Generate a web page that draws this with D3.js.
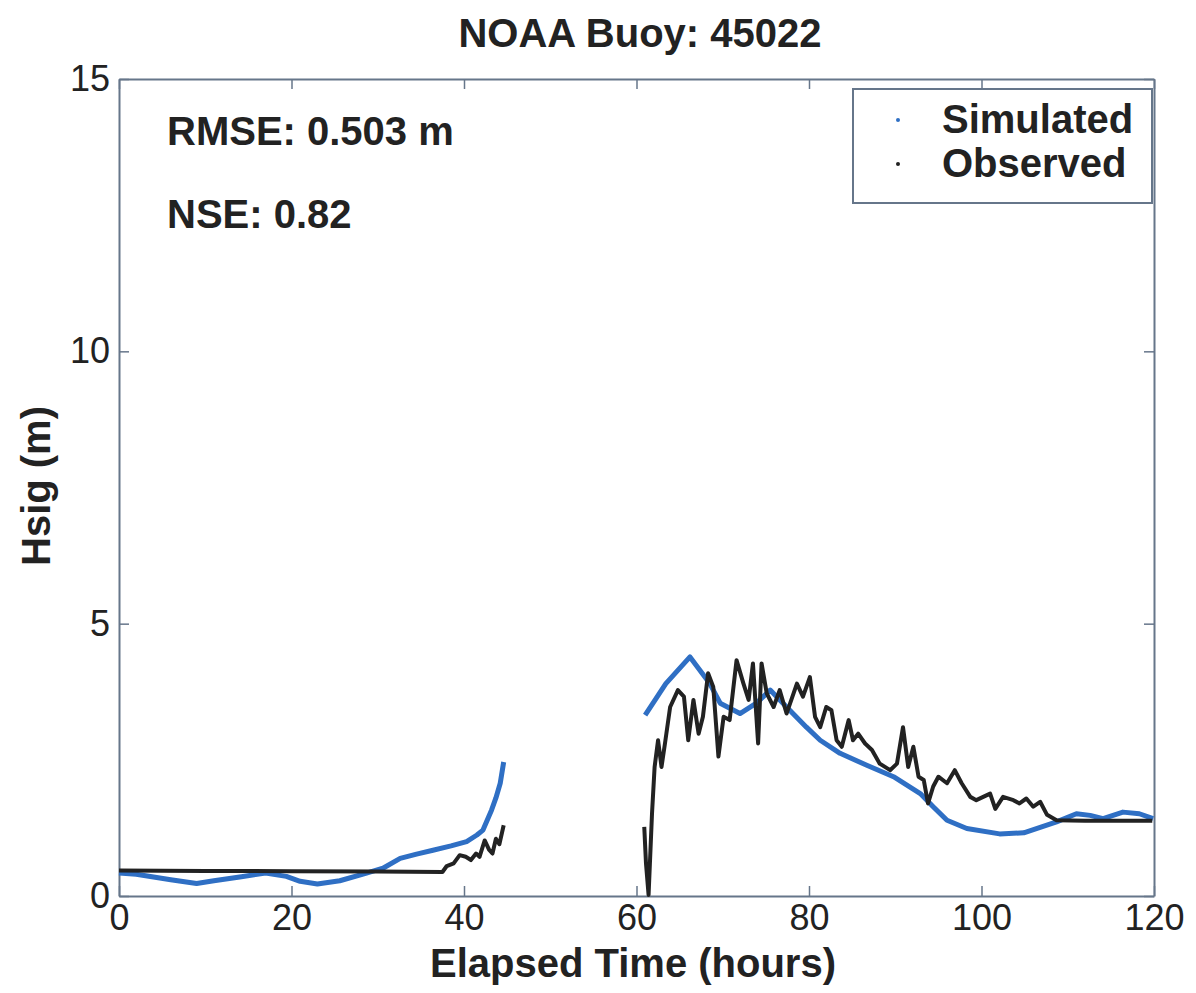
<!DOCTYPE html>
<html>
<head>
<meta charset="utf-8">
<script src="https://cdn.jsdelivr.net/npm/d3@7"></script>
<style>
  body { margin: 0; background: #fff; }
  text { font-family: "Liberation Sans", Arial, sans-serif; fill: #222; }
</style>
</head>
<body>
<div id="chart-holder"></div>
<script>
// chart data (null = gap in record)
var simHours = [0, 2, 4, 6, 9, 11, 14, 17, 19.4, 21,
  23, 25.6, 28.7, 30.6, 32.6, 34.5, 36.4, 38.5, 40.3, 41.5,
  42.2, 43.2, 43.7, 44.2, 44.6,
  null,
  61.0, 63.4, 66.2, 68.5, 69.7, 72.0, 73.9, 75.5, 77.4, 79.7,
  81.3, 83.6, 86.7, 89.8, 92.9, 94.4, 96.0, 98.3, 102.1, 104.9,
  106.8, 108.7, 111.0, 112.6, 114.1, 116.4, 118.3, 119.9];
var simHsig = [0.42, 0.40, 0.35, 0.30, 0.23, 0.28, 0.35, 0.42, 0.36, 0.27,
  0.22, 0.28, 0.42, 0.51, 0.69, 0.77, 0.84, 0.92, 1.0, 1.12,
  1.21, 1.58, 1.8, 2.07, 2.46,
  null,
  3.32, 3.9, 4.39, 3.9, 3.54, 3.35, 3.54, 3.78, 3.47, 3.1,
  2.86, 2.62, 2.4, 2.19, 1.88, 1.64, 1.39, 1.24, 1.14, 1.16,
  1.26, 1.36, 1.51, 1.48, 1.42, 1.54, 1.51, 1.42];

var obsHours = [0, 10, 20, 30, 37.5, 38, 38.8, 39.5, 40.2, 40.8,
  41.4, 41.8, 42.4, 42.9, 43.3, 43.7, 44.1, 44.6,
  null,
  60.9, 61.1, 61.4, 61.8, 62.1, 62.5, 62.9, 63.3, 63.9, 64.8,
  65.5, 66.0, 66.6, 67.2, 67.7, 68.3, 68.9, 69.5, 70.1, 70.8,
  71.6, 72.4, 73.0, 73.5, 74.1, 74.5, 75.1, 75.9, 76.6, 77.4,
  78.6, 79.3, 80.1, 80.7, 81.3, 82.0, 82.6, 83.2, 83.8, 84.6,
  85.1, 85.7, 86.5, 87.3, 88.2, 89.4, 90.2, 90.9, 91.5, 92.1,
  92.7, 93.3, 93.8, 94.4, 95.0, 96.0, 96.9, 97.7, 98.7, 99.4,
  100.2, 101.0, 101.6, 102.5, 103.7, 104.4, 105.2, 106.0, 106.8, 107.6,
  108.7, 112.0, 116.0, 119.8];
var obsHsig = [0.47, 0.46, 0.455, 0.45, 0.44, 0.55, 0.6, 0.75, 0.72, 0.66,
  0.78, 0.72, 1.02, 0.85, 0.78, 1.05, 0.95, 1.3,
  null,
  1.27, 0.6, 0.02, 1.52, 2.37, 2.86, 2.37, 2.8, 3.47, 3.78,
  3.66, 2.86, 3.6, 2.98, 3.29, 4.09, 3.84, 2.56, 3.29, 3.23,
  4.33, 3.9, 3.6, 4.27, 2.8, 4.27, 3.72, 3.47, 3.78, 3.35,
  3.9, 3.66, 4.02, 3.29, 3.1, 3.47, 3.41, 2.86, 2.74, 3.23,
  2.86, 2.98, 2.8, 2.68, 2.43, 2.31, 2.43, 3.1, 2.37, 2.74,
  2.19, 2.13, 1.70, 2.01, 2.19, 2.07, 2.31, 2.07, 1.82, 1.76,
  1.82, 1.88, 1.6, 1.82, 1.76, 1.70, 1.79, 1.64, 1.73, 1.49,
  1.39, 1.38, 1.38, 1.38];

var xTicks = [0, 20, 40, 60, 80, 100, 120];
var yTicks = [0, 5, 10, 15];
var seriesNames = ["Simulated", "Observed"];
var seriesColors = ["#2f6fc4", "#222222"];

var width = 1196,
    height = 993,
    margin = {top: 79, right: 42, bottom: 97, left: 119};

var svg = d3.select("#chart-holder")
  .append("svg")
  .attr("width", width)
  .attr("height", height);

var x = d3.scaleLinear().domain([0, 120]).range([margin.left, width - margin.right]);
var y = d3.scaleLinear().domain([0, 15]).range([height - margin.bottom, margin.top]);

var axisColor = "#66768a";

// box axes with inward ticks, like matlab
svg.append("g")
  .attr("transform", "translate(0," + y(0) + ")")
  .call(d3.axisBottom(x).tickValues(xTicks).tickSizeInner(-10).tickSizeOuter(0).tickPadding(8))
  .call(function(g) {
    g.selectAll("text").style("font-size", "36px");
  });
svg.append("g")
  .attr("transform", "translate(0," + y(15) + ")")
  .call(d3.axisTop(x).tickValues(xTicks).tickSizeInner(-10).tickSizeOuter(0).tickFormat(""));
svg.append("g")
  .attr("transform", "translate(" + x(0) + ",0)")
  .call(d3.axisLeft(y).tickValues(yTicks).tickSizeInner(-10).tickSizeOuter(0).tickPadding(9))
  .call(function(g) {
    g.selectAll("text").style("font-size", "36px");
  });
svg.append("g")
  .attr("transform", "translate(" + x(120) + ",0)")
  .call(d3.axisRight(y).tickValues(yTicks).tickSizeInner(-10).tickSizeOuter(0).tickFormat(""));

svg.selectAll(".domain").attr("stroke", axisColor).attr("stroke-width", 2);
svg.selectAll(".tick line").attr("stroke", axisColor).attr("stroke-width", 1.5);
svg.selectAll(".tick text").attr("fill", "#222");

// series lines
var line = d3.line()
  .defined(function(d) { return d[1] !== null; })
  .x(function(d) { return x(d[0]); })
  .y(function(d) { return y(d[1]); });

var simData = d3.zip(simHours, simHsig);
var obsData = d3.zip(obsHours, obsHsig);

svg.append("path")
  .datum(simData)
  .attr("fill", "none")
  .attr("stroke", seriesColors[0])
  .attr("stroke-width", 5)
  .attr("stroke-linejoin", "round")
  .attr("d", line);

svg.append("path")
  .datum(obsData)
  .attr("fill", "none")
  .attr("stroke", seriesColors[1])
  .attr("stroke-width", 4)
  .attr("stroke-linejoin", "round")
  .attr("d", line);

// titles
svg.append("text")
  .attr("x", 640).attr("y", 47)
  .attr("text-anchor", "middle")
  .style("font-size", "40px").style("font-weight", "bold")
  .text("NOAA Buoy: 45022");

svg.append("text")
  .attr("x", 633).attr("y", 977)
  .attr("text-anchor", "middle")
  .style("font-size", "40px").style("font-weight", "bold")
  .text("Elapsed Time (hours)");

svg.append("text")
  .attr("transform", "translate(50,486)rotate(-90)")
  .attr("text-anchor", "middle")
  .style("font-size", "40px").style("font-weight", "bold")
  .text("Hsig (m)");

// stats
svg.append("text")
  .attr("x", 167).attr("y", 145)
  .style("font-size", "40px").style("font-weight", "bold")
  .text("RMSE: 0.503 m");
svg.append("text")
  .attr("x", 167).attr("y", 228)
  .style("font-size", "40px").style("font-weight", "bold")
  .text("NSE: 0.82");

// legend
var legend = svg.append("g").attr("class", "legend");
legend.append("rect")
  .attr("x", 853).attr("y", 89)
  .attr("width", 299).attr("height", 114)
  .attr("fill", "#fff")
  .attr("stroke", axisColor)
  .attr("stroke-width", 2);

legend.selectAll(".item")
  .data(seriesNames)
  .enter()
  .append("g")
  .each(function(name, i) {
    var g = d3.select(this);
    g.append("circle")
      .attr("cx", 898).attr("cy", 120 + i * 44)
      .attr("r", 2)
      .attr("fill", seriesColors[i]);
    g.append("text")
      .attr("x", 942).attr("y", 133 + i * 44)
      .style("font-size", "40px").style("font-weight", "bold")
      .text(name);
  });
</script>
</body>
</html>
